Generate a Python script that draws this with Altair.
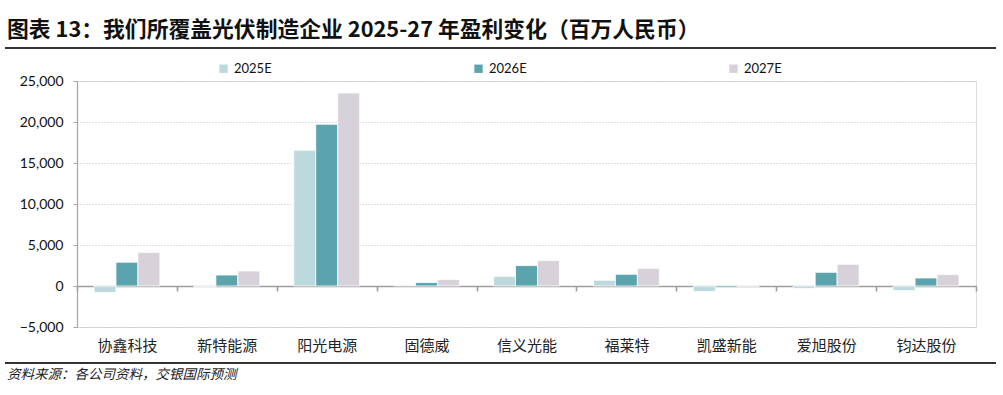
import altair as alt
import pandas as pd

companies = ["协鑫科技", "新特能源", "阳光电源", "固德威", "信义光能", "福莱特", "凯盛新能", "爱旭股份", "钧达股份"]
years = ["2025E", "2026E", "2027E"]
v2025 = [-800, -120, 16550, 100, 1180, 700, -680, -300, -550]
v2026 = [2900, 1340, 19720, 420, 2490, 1430, -200, 1670, 980]
v2027 = [4100, 1830, 23540, 780, 3100, 2160, -30, 2650, 1390]
colors = ["#BCDADE", "#5BA4AE", "#D7D2D9"]
y_ticks = [-5000, 0, 5000, 10000, 15000, 20000, 25000]

title_text = "图表 13：我们所覆盖光伏制造企业 2025-27 年盈利变化（百万人民币）"
source_text = "资料来源：各公司资料，交银国际预测"

rows = []
for i, c in enumerate(companies):
    for y, vals in zip(years, [v2025, v2026, v2027]):
        rows.append({"Company": c, "Year": y, "Value": vals[i]})
df = pd.DataFrame(rows)

W, H = 899, 246

bars = alt.Chart(df).mark_bar(stroke="white", strokeWidth=0.8).encode(
    x=alt.X("Company:N", sort=companies, title=None,
            scale=alt.Scale(paddingInner=0, paddingOuter=0),
            axis=alt.Axis(offset=-41, tickBand="extent", tickSize=5, tickColor="#9E9E9E",
                          domainColor="#9E9E9E", domainWidth=1.6, tickWidth=1.6,
                          labelPadding=47, labelAngle=0, labelFont="Noto Sans CJK SC",
                          labelFontSize=15, labelColor="#222222", grid=False)),
    xOffset=alt.XOffset("Year:N", sort=years,
                        scale=alt.Scale(paddingInner=0, paddingOuter=0.7727)),
    y=alt.Y("Value:Q", title=None,
            scale=alt.Scale(domain=[-5000, 25000], nice=False),
            axis=alt.Axis(values=y_ticks, format=",.0f", tickSize=4, tickColor="#A6A6A6",
                          domainColor="#A6A6A6", domainWidth=1.2, labelPadding=10,
                          labelFont="Lato", labelFontSize=14, labelColor="#111111",
                          grid=True, gridColor="#BFBFBF", gridDash=[1, 2], gridWidth=1)),
    color=alt.Color("Year:N", sort=years,
                    scale=alt.Scale(domain=years, range=colors),
                    legend=alt.Legend(title=None, orient="none", direction="horizontal",
                                      legendX=140, legendY=-19, columnPadding=200,
                                      symbolType="square", symbolSize=70, symbolStrokeWidth=0,
                                      labelFont="Lato", labelFontSize=13, labelColor="#111111",
                                      labelOffset=4)),
)

one = alt.Data(values=[{"a": 1}])

title_mark = alt.Chart(one).mark_text(
    align="left", baseline="middle", font="Noto Sans CJK SC", fontWeight="bold",
    fontSize=21.8, color="#111111"
).encode(x=alt.value(-70), y=alt.value(-51), text=alt.value(title_text))

top_rule = alt.Chart(one).mark_rule(color="#333333", strokeWidth=2).encode(
    x=alt.value(-72), x2=alt.value(W + 20), y=alt.value(-33))

bottom_rule = alt.Chart(one).mark_rule(color="#333333", strokeWidth=2).encode(
    x=alt.value(-72), x2=alt.value(W + 20), y=alt.value(282))

source_mark = alt.Chart(one).mark_text(
    align="left", baseline="middle", font="Noto Sans CJK SC", fontStyle="italic",
    fontSize=13.5, color="#222222"
).encode(x=alt.value(-70), y=alt.value(294), text=alt.value(source_text))

chart = alt.layer(bars, title_mark, top_rule, bottom_rule, source_mark).properties(
    width=W, height=H,
    autosize=alt.AutoSizeParams(type="none"),
    padding={"left": 77, "top": 81, "right": 27, "bottom": 68},
).configure_view(stroke=None).configure(background="white")

chart.save("out.html", embed_options={"renderer": "svg", "actions": False})
